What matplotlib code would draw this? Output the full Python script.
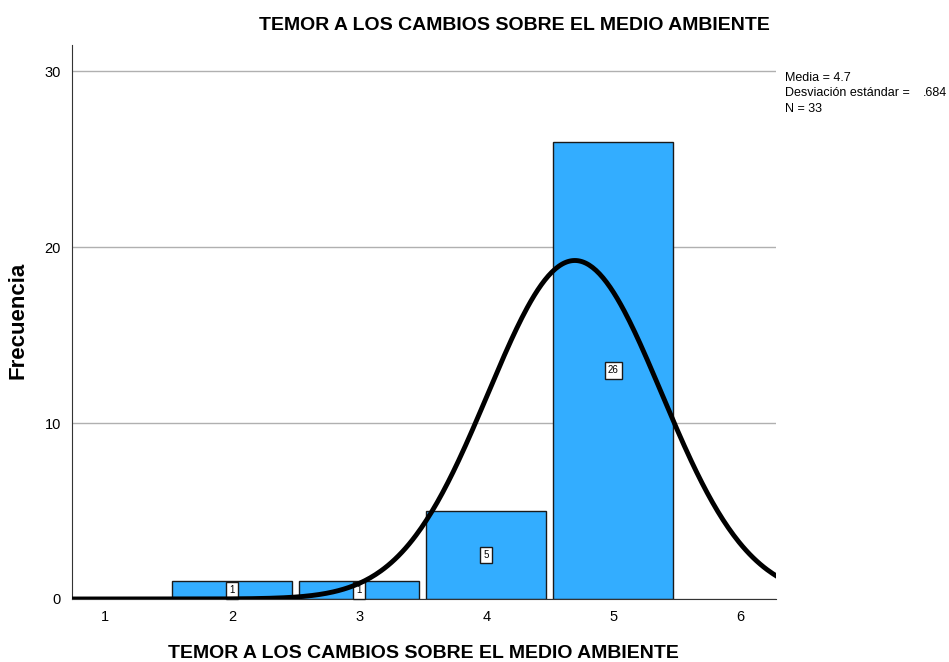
import matplotlib.pyplot as plt
import numpy as np

plt.rcParams['font.family'] = ['Liberation Sans', 'DejaVu Sans']

values = [2, 3, 4, 5]
counts = [1, 1, 5, 26]
media = 4.7
desv = 0.684
n = 33
titulo = "TEMOR A LOS CAMBIOS SOBRE EL MEDIO AMBIENTE"

fig = plt.figure(figsize=(9.49, 6.62), dpi=100)
ax = fig.add_axes([0.0759, 0.0952, 0.7418, 0.8368])

ax.bar(values, counts, width=0.945, color='#33adff', edgecolor='#1a1a1a', linewidth=1, zorder=2)
for v, c in zip(values, counts):
    ax.text(v, c / 2, str(c), ha='center', va='center', fontsize=7, zorder=3,
            bbox=dict(boxstyle='square,pad=0.35', fc='white', ec='#1a1a1a', lw=1))

mu = np.dot(values, counts) / n
x = np.linspace(0.74, 6.28, 400)
y = n * 1.0 / (desv * np.sqrt(2 * np.pi)) * np.exp(-0.5 * ((x - mu) / desv) ** 2)
ax.plot(x, y, color='black', linewidth=3.5, zorder=4)

ax.set_xlim(0.74, 6.28)
ax.set_ylim(0, 31.5)
ax.set_xticks([1, 2, 3, 4, 5, 6])
ax.set_yticks([0, 10, 20, 30])
ax.tick_params(length=0, labelsize=10.5, pad=8)
ax.yaxis.grid(True, color='#b0b0b0', linewidth=1, zorder=0)
ax.set_axisbelow(True)
for s in ['top', 'right']:
    ax.spines[s].set_visible(False)
ax.spines['left'].set_color('#333333')
ax.spines['bottom'].set_color('#333333')

fig.text(0.446, 0.013, titulo, ha='center', va='center', fontsize=14, fontweight='bold')
fig.text(0.019, 0.516, "Frecuencia", ha='center', va='center', rotation=90,
         fontsize=16, fontweight='bold')
fig.text(0.542, 0.962, titulo, ha='center', va='center', fontsize=14, fontweight='bold')

fig.text(0.827, 0.882, "Media = 4.7", fontsize=9, va='center')
fig.text(0.827, 0.859, "Desviación estándar =", fontsize=9, va='center')
fig.text(0.972, 0.859, ".684", fontsize=9, va='center')
fig.text(0.827, 0.836, "N = 33", fontsize=9, va='center')

fig.savefig('out.png', dpi=100)
